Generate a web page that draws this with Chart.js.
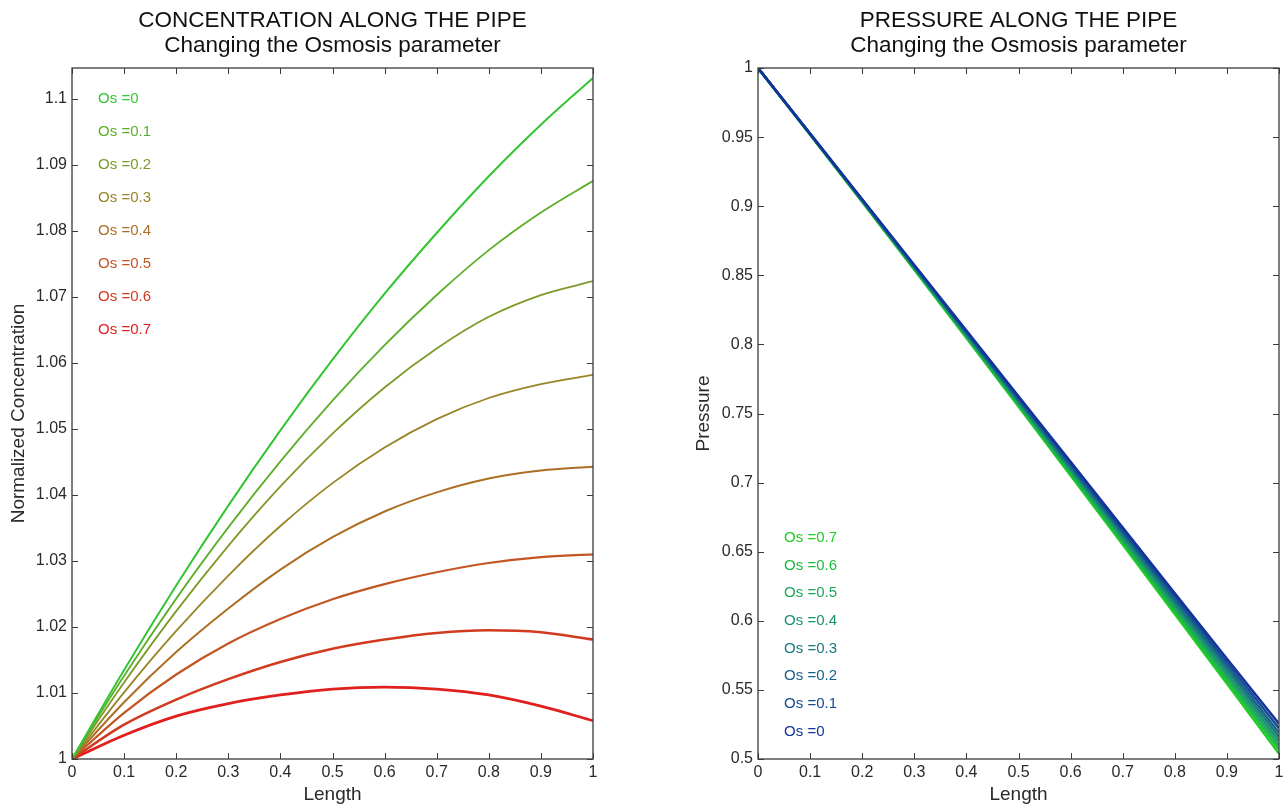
<!DOCTYPE html>
<html>
<head>
<meta charset="utf-8">
<script src="https://cdn.jsdelivr.net/npm/chart.js@4.4.1/dist/chart.umd.min.js"></script>
<style>
    html, body { margin: 0; padding: 0; background: #fff; }
    .wrap { position: absolute; top: 0; width: 644px; height: 808px; }
    #left-wrap { left: 0; }
    #right-wrap { left: 644px; }
</style>
</head>
<body>
<div class="wrap" id="left-wrap"><canvas id="conc-chart"></canvas></div>
<div class="wrap" id="right-wrap"><canvas id="press-chart"></canvas></div>
<script>
// positions along the pipe
const lengthPts = [0, 0.1, 0.2, 0.3, 0.4, 0.5, 0.6, 0.7, 0.8, 0.9, 1];
const osValues = ['0', '0.1', '0.2', '0.3', '0.4', '0.5', '0.6', '0.7'];

// normalized concentration, one array per Os value
const concOs0 = [1, 1.0135, 1.0263, 1.0384, 1.0498, 1.0605, 1.0705, 1.0797, 1.0883, 1.0961, 1.1032];
const concOs1 = [1, 1.0126, 1.0243, 1.0351, 1.0451, 1.0543, 1.0627, 1.0703, 1.0771, 1.0828, 1.0876];
const concOs2 = [1, 1.0116, 1.0224, 1.0323, 1.0413, 1.0493, 1.0563, 1.0622, 1.0670, 1.0703, 1.0724];
const concOs3 = [1, 1.0101, 1.0194, 1.0278, 1.0353, 1.0418, 1.0472, 1.0515, 1.0547, 1.0568, 1.0582];
const concOs4 = [1, 1.0086, 1.0162, 1.0228, 1.0287, 1.0336, 1.0375, 1.0404, 1.0425, 1.0437, 1.0443];
const concOs5 = [1, 1.0070, 1.0128, 1.0175, 1.0212, 1.0242, 1.0265, 1.0283, 1.0297, 1.0306, 1.0310];
const concOs6 = [1, 1.0052, 1.0090, 1.0121, 1.0147, 1.0167, 1.0181, 1.0191, 1.0195, 1.0192, 1.0181];
const concOs7 = [1, 1.0036, 1.0065, 1.0084, 1.0097, 1.0106, 1.0109, 1.0106, 1.0097, 1.0080, 1.0058];

// pressure, one array per Os value
const presOs0 = [1, 0.9525, 0.9050, 0.8575, 0.8100, 0.7625, 0.7150, 0.6675, 0.6200, 0.5725, 0.5255];
const presOs1 = [1, 0.9524, 0.9047, 0.8570, 0.8092, 0.7614, 0.7136, 0.6657, 0.6179, 0.5700, 0.5222];
const presOs2 = [1, 0.9523, 0.9045, 0.8565, 0.8085, 0.7604, 0.7122, 0.6640, 0.6157, 0.5675, 0.5190];
const presOs3 = [1, 0.9522, 0.9042, 0.8560, 0.8077, 0.7593, 0.7108, 0.6622, 0.6136, 0.5649, 0.5160];
const presOs4 = [1, 0.9521, 0.9039, 0.8555, 0.8070, 0.7583, 0.7094, 0.6605, 0.6114, 0.5623, 0.5130];
const presOs5 = [1, 0.9520, 0.9036, 0.8550, 0.8062, 0.7572, 0.7080, 0.6587, 0.6093, 0.5597, 0.5100];
const presOs6 = [1, 0.9519, 0.9034, 0.8545, 0.8055, 0.7562, 0.7066, 0.6570, 0.6071, 0.5572, 0.5070];
const presOs7 = [1, 0.9518, 0.9031, 0.8540, 0.8047, 0.7551, 0.7052, 0.6552, 0.6050, 0.5546, 0.5040];

const concSeries = [concOs0, concOs1, concOs2, concOs3, concOs4, concOs5, concOs6, concOs7];
const presSeries = [presOs0, presOs1, presOs2, presOs3, presOs4, presOs5, presOs6, presOs7];

// colours: green -> red on the left, blue -> green on the right
const concColors = ['#33c433', '#5cae2a', '#7c9a28', '#978526', '#ad6e24', '#c25522', '#d23a20', '#df201e'];
const presColors = ['#14329c', '#154a92', '#17628a', '#187a7e', '#1a9270', '#1ba85a', '#1cbc40', '#1ecc22'];
const concWidths = [2, 1.8, 1.8, 1.8, 2, 2.2, 2.6, 2.8];

const FONT = "'Liberation Sans', Arial, sans-serif";
const AXIS = '#3a3a3a';

// MATLAB-like frame: box on all sides and inward tick marks
const framePlugin = {
    id: 'frame',
    afterDraw(chart) {
        const { ctx, chartArea: a, scales: { x, y } } = chart;
        ctx.save();
        ctx.strokeStyle = AXIS;
        ctx.lineWidth = 1.3;
        ctx.strokeRect(a.left, a.top, a.right - a.left, a.bottom - a.top);
        ctx.lineWidth = 1;
        const len = 6;
        x.ticks.forEach(t => {
            const px = Math.round(x.getPixelForValue(t.value)) + 0.5;
            ctx.beginPath();
            ctx.moveTo(px, a.bottom); ctx.lineTo(px, a.bottom - len);
            ctx.moveTo(px, a.top); ctx.lineTo(px, a.top + len);
            ctx.stroke();
        });
        y.ticks.forEach(t => {
            const py = Math.round(y.getPixelForValue(t.value)) + 0.5;
            ctx.beginPath();
            ctx.moveTo(a.left, py); ctx.lineTo(a.left + len, py);
            ctx.moveTo(a.right, py); ctx.lineTo(a.right - len, py);
            ctx.stroke();
        });
        ctx.restore();
    }
};

// "Os =..." text labels placed in data coordinates
const osLabelPlugin = {
    id: 'osLabels',
    afterDatasetsDraw(chart, args, opts) {
        const { ctx, scales: { x, y } } = chart;
        ctx.save();
        ctx.font = `15px ${FONT}`;
        ctx.textAlign = 'left';
        ctx.textBaseline = 'middle';
        opts.items.forEach(item => {
            ctx.fillStyle = item.color;
            ctx.fillText(item.text, x.getPixelForValue(opts.x), y.getPixelForValue(item.y));
        });
        ctx.restore();
    }
};

function makeDatasets(series, colors, widths, smooth) {
    return series.map((vals, i) => ({
        label: 'Os =' + osValues[i],
        data: lengthPts.map((l, j) => ({ x: l, y: vals[j] })),
        borderColor: colors[i],
        backgroundColor: colors[i],
        borderWidth: widths[i],
        pointRadius: 0,
        fill: false,
        cubicInterpolationMode: smooth ? 'monotone' : 'default',
        tension: 0
    }));
}

function makeChart(canvasId, cfg) {
    const fitY = cfg.yWidth, fitX = 49;
    return new Chart(document.getElementById(canvasId), {
        type: 'line',
        data: { datasets: cfg.datasets },
        options: {
            responsive: true,
            maintainAspectRatio: false,
            animation: false,
            layout: { padding: { left: 0, right: cfg.rightPad, top: 0, bottom: 0 } },
            plugins: {
                legend: { display: false },
                tooltip: { enabled: false },
                title: {
                    display: true,
                    fullSize: false,
                    text: cfg.title,
                    color: '#111',
                    font: { family: FONT, size: 22.5, weight: 'normal', lineHeight: '25px' },
                    padding: { top: 8, bottom: 10 }
                },
                osLabels: { x: 0.05, items: cfg.labels }
            },
            scales: {
                x: {
                    type: 'linear',
                    min: 0, max: 1,
                    afterFit(s) { s.height = fitX; },
                    border: { display: false },
                    grid: { display: false, drawTicks: false },
                    ticks: {
                        stepSize: 0.1,
                        padding: 4,
                        color: '#2a2a2a',
                        font: { family: FONT, size: 16 },
                        maxRotation: 0,
                        callback: v => String(+v.toFixed(2))
                    },
                    title: {
                        display: true, text: 'Length', color: '#2a2a2a',
                        font: { family: FONT, size: 19 },
                        padding: { top: 0, bottom: 2 }
                    }
                },
                y: {
                    min: cfg.yMin, max: cfg.yMax,
                    afterFit(s) { s.width = fitY; },
                    border: { display: false },
                    grid: { display: false, drawTicks: false },
                    ticks: {
                        stepSize: cfg.yStep,
                        includeBounds: false,
                        padding: 5,
                        color: '#2a2a2a',
                        font: { family: FONT, size: 16 },
                        callback: v => String(+v.toFixed(3))
                    },
                    title: {
                        display: true, text: cfg.yTitle, color: '#2a2a2a',
                        font: { family: FONT, size: 19 },
                        padding: { top: cfg.yTitlePad, bottom: 0 }
                    }
                }
            }
        },
        plugins: [framePlugin, osLabelPlugin]
    });
}

const concLabels = osValues.map((o, i) => ({ text: 'Os =' + o, y: 1.1 - 0.005 * i, color: concColors[i] }));
const presLabels = osValues.map((o, i) => ({ text: 'Os =' + o, y: 0.52 + 0.02 * i, color: presColors[i] }));

makeChart('conc-chart', {
    datasets: makeDatasets(concSeries, concColors, concWidths, true),
    title: ['CONCENTRATION ALONG THE PIPE', 'Changing the Osmosis parameter'],
    yTitle: 'Normalized Concentration',
    yMin: 1, yMax: 1.1047, yStep: 0.01,
    yWidth: 72, rightPad: 51, yTitlePad: 7,
    labels: concLabels
});

makeChart('press-chart', {
    datasets: makeDatasets(presSeries, presColors, [2.5, 2.5, 2.5, 2.5, 2.5, 2.5, 2.5, 2.5], false),
    title: ['PRESSURE ALONG THE PIPE', 'Changing the Osmosis parameter'],
    yTitle: 'Pressure',
    yMin: 0.5, yMax: 1, yStep: 0.05,
    yWidth: 114, rightPad: 9, yTitlePad: 48,
    labels: presLabels
});
</script>
</body>
</html>
